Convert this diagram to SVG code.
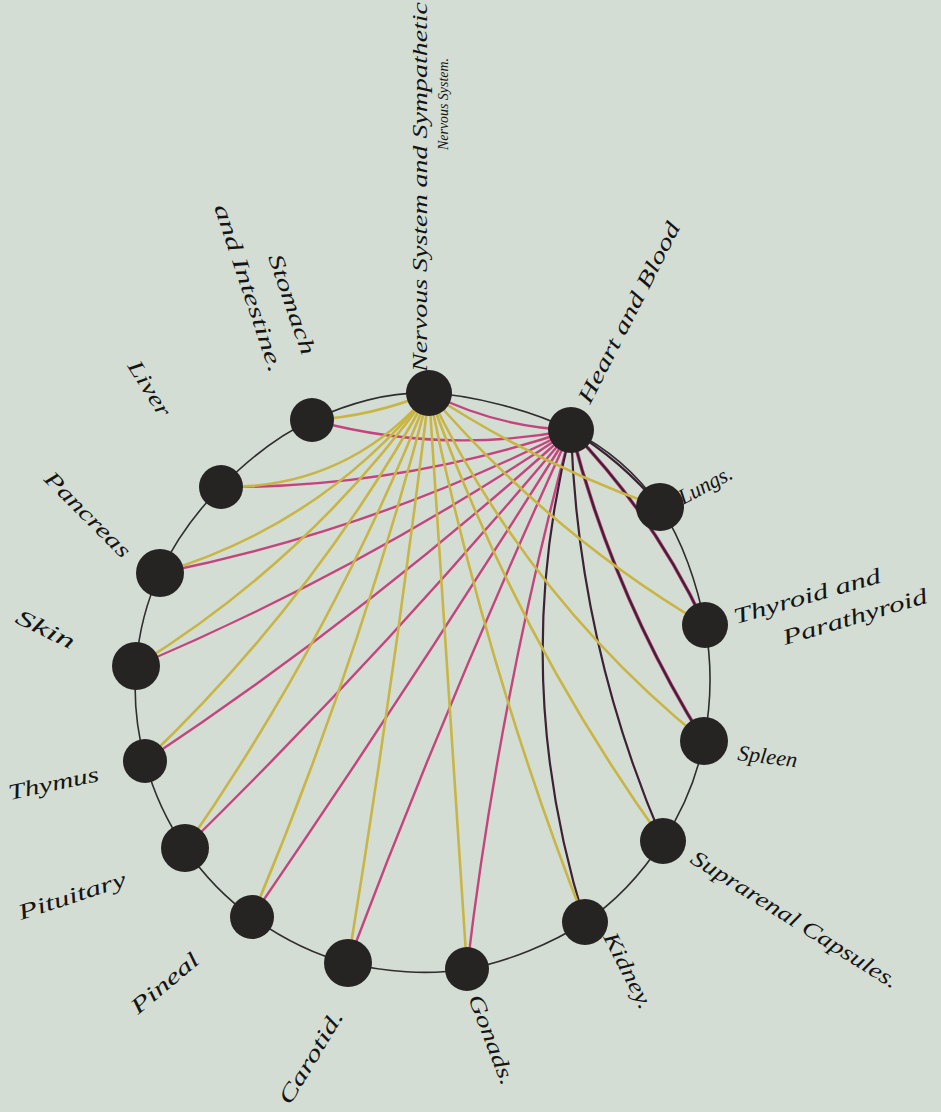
<svg xmlns="http://www.w3.org/2000/svg" width="941" height="1112" viewBox="0 0 941 1112">
<style>
.bg{fill:#d4ddd4}
.ring{fill:none;stroke:#2e2e2e;stroke-width:1.6}
.y{fill:none;stroke:#c8b545;stroke-width:2.6;stroke-linecap:round}
.m{fill:none;stroke:#c4457e;stroke-width:2.4;stroke-linecap:round}
.d{fill:none;stroke:#3d2236;stroke-width:2.2;stroke-linecap:round}
.node circle{fill:#262323}
text{font-family:"Liberation Serif",serif;font-style:italic;font-size:22px;fill:#141414}
</style>
<rect class="bg" x="0" y="0" width="941" height="1112"/>
<g id="connectors">
<path class="ring" d="M429,393 C472.2,394.7 532.5,411 571,430 C609.5,449 637.7,474.5 660,507 C682.3,539.5 697.7,586 705,625 C712.3,664 711,705 704,741 C697,777 682.8,810.8 663,841 C643.2,871.2 617.7,900.7 585,922 C552.3,943.3 506.5,962.2 467,969 C427.5,975.8 383.8,971.7 348,963 C312.2,954.3 279.2,936.2 252,917 C224.8,897.8 202.8,874 185,848 C167.2,822 153.2,791.3 145,761 C136.8,730.7 133.5,697.3 136,666 C138.5,634.7 145.8,602.8 160,573 C174.2,543.2 195.7,512.5 221,487 C246.3,461.5 277.3,435.7 312,420 C346.7,404.3 385.8,391.3 429,393 Z"/>
<g id="from-heart">
<path class="m" d="M571,430 Q496,427 429,393"/>
<path class="m" d="M571,430 Q441.5,455 312,420"/>
<path class="m" d="M571,430 Q400.8,488 221,487"/>
<path class="m" d="M571,430 Q375.4,529.9 160,573"/>
<path class="m" d="M571,430 Q365,569 136,666"/>
<path class="m" d="M571,430 Q370.3,611.3 145,761"/>
<path class="m" d="M571,430 Q388.3,648.5 185,848"/>
<path class="m" d="M571,430 Q416.5,676.8 252,917"/>
<path class="m" d="M571,430 Q450.3,692.6 348,963"/>
<path class="m" d="M571,430 Q499.4,695.7 467,969"/>
<path class="d" d="M571,430 Q508,676 585,922"/>
<path class="d" d="M571,430 Q578,644.2 663,841"/>
<path class="m" d="M571,430 Q613.6,595.7 704,741" style="stroke-width:3.6"/>
<path class="d" d="M571,430 Q613.6,595.7 704,741"/>
<path class="m" d="M571,430 Q654.5,516.2 705,625" style="stroke-width:3.6"/>
<path class="d" d="M571,430 Q654.5,516.2 705,625"/>
<path class="d" d="M571,430 Q622,461 660,507"/>
</g>
<g id="from-nervous">
<path class="y" d="M429,393 Q372.8,416.3 312,420"/>
<path class="y" d="M429,393 Q347,489 221,487"/>
<path class="y" d="M429,393 Q322.3,524.6 160,573"/>
<path class="y" d="M429,393 Q309.8,558.8 136,666"/>
<path class="y" d="M429,393 Q315.5,599 145,761"/>
<path class="y" d="M429,393 Q333.5,634.7 185,848"/>
<path class="y" d="M429,393 Q359.5,661.4 252,917"/>
<path class="y" d="M429,393 Q394.4,678.8 348,963"/>
<path class="y" d="M429,393 L467,969"/>
<path class="y" d="M429,393 Q484,664 585,922"/>
<path class="y" d="M429,393 Q514,633.7 663,841"/>
<path class="y" d="M429,393 Q527.2,598 704,741"/>
<path class="y" d="M429,393 Q547.7,532 705,625"/>
<path class="y" d="M429,393 Q537.4,464.4 660,507"/>
</g>
</g>
<g id="node-nervous" class="node"><circle cx="429" cy="393" r="23"/>
<text transform="translate(427,372) rotate(-90)" textLength="370" lengthAdjust="spacingAndGlyphs">Nervous System and Sympathetic</text>
<text transform="translate(448,150) rotate(-90)" textLength="92" lengthAdjust="spacingAndGlyphs" style="font-size:15px">Nervous System.</text></g>
<g id="node-heart" class="node"><circle cx="571" cy="430" r="23"/>
<text transform="translate(590,405) rotate(-63)" textLength="200" lengthAdjust="spacingAndGlyphs">Heart and Blood</text></g>
<g id="node-lungs" class="node"><circle cx="660" cy="507" r="24"/>
<text transform="translate(683,505) rotate(-28)" textLength="58" lengthAdjust="spacingAndGlyphs">Lungs.</text></g>
<g id="node-thyroid" class="node"><circle cx="705" cy="625" r="23"/>
<text transform="translate(736,624) rotate(-16)" textLength="152" lengthAdjust="spacingAndGlyphs">Thyroid and</text>
<text transform="translate(785,645) rotate(-16.5)" textLength="150" lengthAdjust="spacingAndGlyphs">Parathyroid</text></g>
<g id="node-spleen" class="node"><circle cx="704" cy="741" r="24"/>
<text transform="translate(737,760) rotate(7)" textLength="60" lengthAdjust="spacingAndGlyphs">Spleen</text></g>
<g id="node-suprarenal" class="node"><circle cx="663" cy="841" r="23"/>
<text transform="translate(689,862) rotate(32)" textLength="240" lengthAdjust="spacingAndGlyphs">Suprarenal Capsules.</text></g>
<g id="node-kidney" class="node"><circle cx="585" cy="922" r="23"/>
<text transform="translate(603,937) rotate(63)" textLength="83" lengthAdjust="spacingAndGlyphs">Kidney.</text></g>
<g id="node-gonads" class="node"><circle cx="467" cy="969" r="22"/>
<text transform="translate(468,998) rotate(69)" textLength="95" lengthAdjust="spacingAndGlyphs">Gonads.</text></g>
<g id="node-carotid" class="node"><circle cx="348" cy="963" r="24"/>
<text transform="translate(290,1106) rotate(-59)" textLength="105" lengthAdjust="spacingAndGlyphs">Carotid.</text></g>
<g id="node-pineal" class="node"><circle cx="252" cy="917" r="22"/>
<text transform="translate(138,1015) rotate(-40)" textLength="82" lengthAdjust="spacingAndGlyphs">Pineal</text></g>
<g id="node-pituitary" class="node"><circle cx="185" cy="848" r="24"/>
<text transform="translate(21,920) rotate(-18)" textLength="112" lengthAdjust="spacingAndGlyphs">Pituitary</text></g>
<g id="node-thymus" class="node"><circle cx="145" cy="761" r="22"/>
<text transform="translate(10,800) rotate(-12)" textLength="92" lengthAdjust="spacingAndGlyphs">Thymus</text></g>
<g id="node-skin" class="node"><circle cx="136" cy="666" r="24"/>
<text transform="translate(14,622) rotate(26)" textLength="63" lengthAdjust="spacingAndGlyphs">Skin</text></g>
<g id="node-pancreas" class="node"><circle cx="160" cy="573" r="24"/>
<text transform="translate(43,480) rotate(45)" textLength="112" lengthAdjust="spacingAndGlyphs">Pancreas</text></g>
<g id="node-liver" class="node"><circle cx="221" cy="487" r="22"/>
<text transform="translate(127,366) rotate(58)" textLength="62" lengthAdjust="spacingAndGlyphs">Liver</text></g>
<g id="node-stomach" class="node"><circle cx="312" cy="420" r="22"/>
<text transform="translate(268,257) rotate(71)" textLength="105" lengthAdjust="spacingAndGlyphs">Stomach</text>
<text transform="translate(214,207) rotate(71.5)" textLength="176" lengthAdjust="spacingAndGlyphs">and Intestine.</text></g>
</svg>
